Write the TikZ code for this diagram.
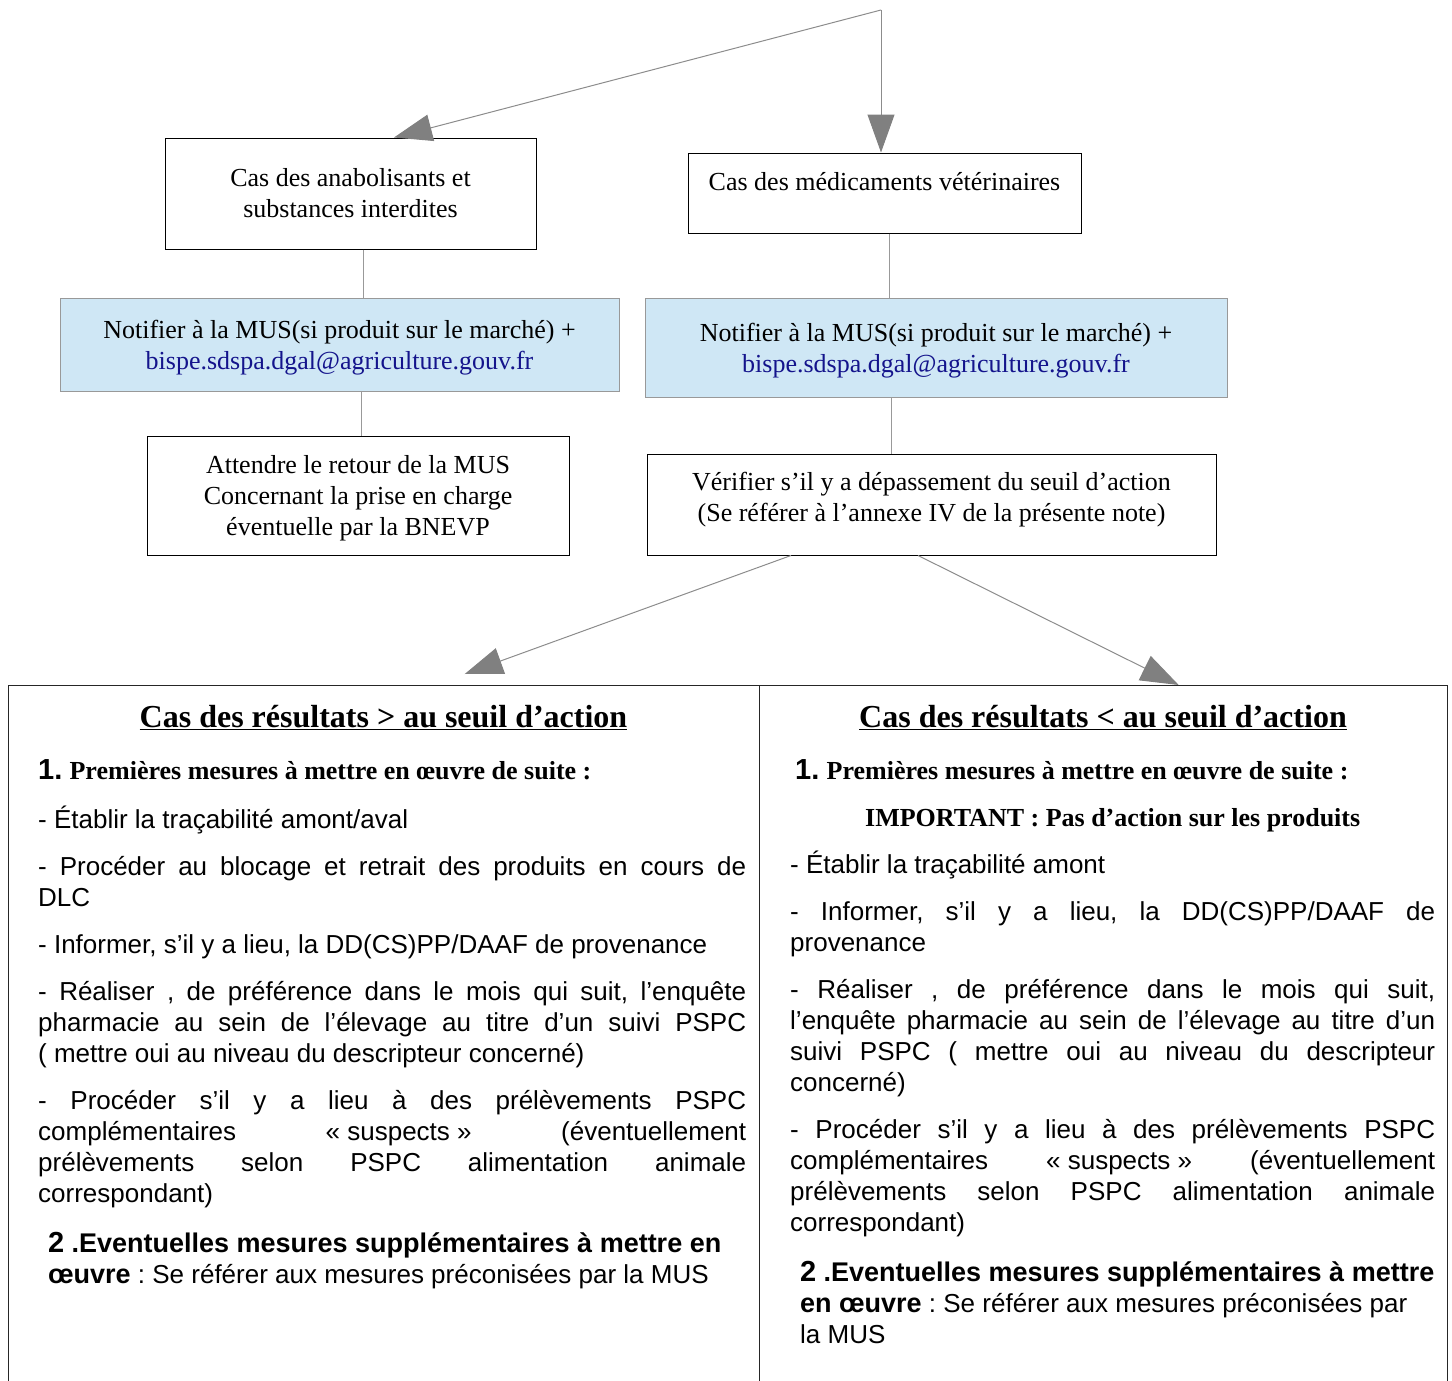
\documentclass[tikz,border=0pt]{standalone}
\usepackage{fontspec}
\setmainfont{Liberation Serif}
\setsansfont{Liberation Sans}
\usepackage{xcolor}
\usepackage{tikz}
\usetikzlibrary{arrows.meta, calc, positioning}
\definecolor{notifblue}{RGB}{207,231,245}
\definecolor{mailblue}{RGB}{20,20,140}
\tikzset{
	casebox/.style={draw=black, line width=1pt, align=center, inner sep=0pt, font=\boxfont},
	notif/.style={casebox, draw=black!40, fill=notifblue, text depth=0pt},
	result/.style={draw=black!85, line width=1.4pt, inner sep=0pt, anchor=north west, minimum height=720pt},
	link/.style={draw=black!40, line width=1pt},
	flow/.style={draw=black!45, line width=1pt, -{Triangle[length=38pt,width=27pt,color=black!50]}}
}
\newcommand{\boxfont}{\rmfamily\fontsize{26}{31}\selectfont}
\newcommand{\numfont}{\sffamily\bfseries\fontsize{29}{31}\selectfont}
\newcommand{\leadfont}{\rmfamily\bfseries}
\newcommand{\suppfont}{\bfseries\fontsize{27}{31}\selectfont}
\newcommand{\colsetup}{\sffamily\fontsize{26}{31}\selectfont\parskip=16pt\parindent=0pt
	\frenchspacing\hyphenpenalty=10000\exhyphenpenalty=10000\tolerance=10000}
\newcommand{\mail}{{\color{mailblue}bispe.sdspa.dgal@agriculture.gouv.fr}}
\newcommand{\susp}{\mbox{« suspects »}}

\begin{document}
\begin{tikzpicture}[x=1pt, y=-1pt,
	col/.style={anchor=north west, inner sep=0pt, align=justify},
	head/.style={font=\rmfamily\bfseries\fontsize{32}{38}\selectfont, inner sep=0pt, anchor=base}]
\useasboundingbox (0,0) rectangle (1452,1381);
\coordinate (top) at (881,10);
\node[casebox, minimum width=371pt, minimum height=111pt] (anab) at (350.5,193.5) {Cas des anabolisants et\\substances interdites};
\node[casebox, minimum width=393pt, minimum height=80pt, text depth=24pt] (medic) at (884.5,193) {Cas des médicaments vétérinaires};
\node[notif, minimum width=559pt, minimum height=93pt] (notifL) at (339.5,344.5) {Notifier à la MUS(si produit sur le marché) +\\\mail};
\node[notif, minimum width=582pt, minimum height=99pt] (notifR) at (936,347.5) {Notifier à la MUS(si produit sur le marché) +\\\mail};
\node[casebox, minimum width=422pt, minimum height=119pt, text depth=0pt] (attend) at (358,495.5) {Attendre le retour de la MUS\\Concernant la prise en charge\\éventuelle par la BNEVP};
\node[casebox, minimum width=569pt, minimum height=101pt, text depth=16pt] (verif) at (931.5,504.5) {Vérifier s’il y a dépassement du seuil d’action\\(Se référer à l’annexe IV de la présente note)};
\node[result, minimum width=751pt] (resL) at (8,685) {};
\node[result, minimum width=688pt] (resR) at (759,685) {};

\draw[flow] (top) -- (top |- medic.north);
\draw[flow] (top) -- ([xshift=43.5pt]anab.north);
\draw[link] ([xshift=12.5pt]anab.south) -- ([xshift=12.5pt]anab.south |- notifL.north);
\draw[link] ([xshift=21.5pt]notifL.south) -- ([xshift=21.5pt]notifL.south |- attend.north);
\draw[link] ([xshift=4.5pt]medic.south) -- ([xshift=4.5pt]medic.south |- notifR.north);
\draw[link] ([xshift=-45pt]notifR.south) -- ([xshift=-45pt]notifR.south |- verif.north);
\draw[flow] ([xshift=-140.5pt]verif.south) -- ([xshift=80.5pt,yshift=11pt]resL.north);
\draw[flow] ([xshift=-13.5pt]verif.south) -- ([xshift=75pt]resR.north);

\node[head] (headL) at (383.5,727) {\underline{Cas des résultats > au seuil d’action}};
\node[head] (headR) at (1103,727) {\underline{Cas des résultats < au seuil d’action}};

\node[col, text width=708pt] (bodyL) at (38,757.3) {\colsetup
\strut{\numfont 1.} {\leadfont Premières mesures à mettre en œuvre de suite :}\par
- Établir la traçabilité amont/aval\par
- Procéder au blocage et retrait des produits en cours de\linebreak DLC\par
- Informer, s’il y a lieu, la DD(CS)PP/DAAF de provenance\par
- Réaliser , de préférence dans le mois qui suit, l’enquête\linebreak pharmacie au sein de l’élevage au titre d’un suivi PSPC\linebreak ( mettre oui au niveau du descripteur concerné)\par
- Procéder s’il y a lieu à des prélèvements PSPC\linebreak complémentaires \susp{} (éventuellement\linebreak prélèvements selon PSPC alimentation animale\linebreak correspondant)\par
\vspace{3pt}{\raggedright\leftskip=10pt{\numfont 2} {\suppfont .Eventuelles mesures supplémentaires à mettre en}\\{\suppfont œuvre} : Se référer aux mesures préconisées par la MUS\par}};

\node[col, text width=645pt] (bodyR) at (790,757.3) {\colsetup
\strut\hspace*{5pt}{\numfont 1.} {\leadfont Premières mesures à mettre en œuvre de suite :}\par
{\centering\leadfont IMPORTANT : Pas d’action sur les produits\par}
- Établir la traçabilité amont\par
- Informer, s’il y a lieu, la DD(CS)PP/DAAF de\linebreak provenance\par
- Réaliser , de préférence dans le mois qui suit,\linebreak l’enquête pharmacie au sein de l’élevage au titre d’un\linebreak suivi PSPC ( mettre oui au niveau du descripteur\linebreak concerné)\par
- Procéder s’il y a lieu à des prélèvements PSPC\linebreak complémentaires \susp{} (éventuellement\linebreak prélèvements selon PSPC alimentation animale\linebreak correspondant)\par
\vspace{3pt}{\raggedright\leftskip=10pt{\numfont 2} {\suppfont .Eventuelles mesures supplémentaires à mettre}\\{\suppfont en œuvre} : Se référer aux mesures préconisées par\\la MUS\par}};
\end{tikzpicture}
\end{document}
